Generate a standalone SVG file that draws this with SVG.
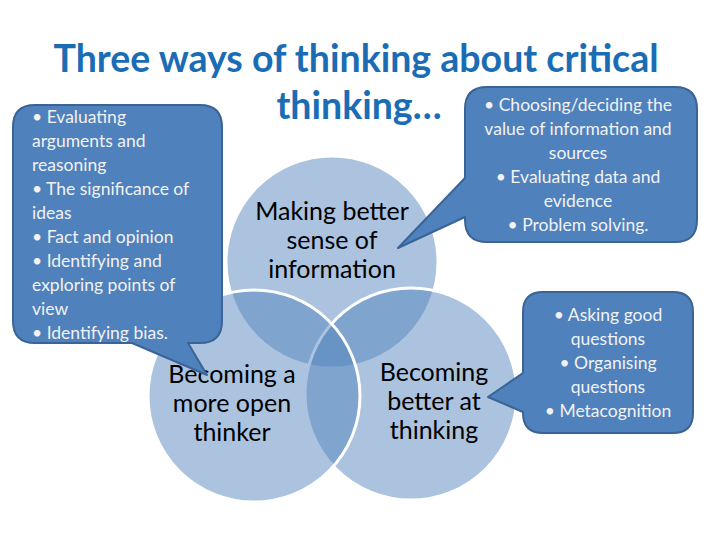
<svg xmlns="http://www.w3.org/2000/svg" width="720" height="540" viewBox="0 0 720 540">
<style>
.title{font-family:Lato,"Open Sans","Liberation Sans",sans-serif;font-weight:bold;font-size:37.5px;fill:#1a6db5;text-anchor:middle}
.venn{fill:#4f81bd;fill-opacity:0.48;stroke:#ffffff;stroke-width:3}
.lbl{font-family:Lato,"Open Sans","Liberation Sans",sans-serif;font-size:25px;fill:#000;text-anchor:middle}
.call{fill:#4f81bd;stroke:#3a6496;stroke-width:2;stroke-linejoin:round}
.ct{font-family:Lato,"Open Sans","Liberation Sans",sans-serif;font-size:17.5px;fill:#f2f2f2}
.cc{text-anchor:middle}
</style>
<rect width="720" height="540" fill="#ffffff"/>
<g id="title">
<text class="title" x="356" y="72">Three ways of thinking about critical</text>
<text class="title" x="359" y="119">thinking…</text>
</g>
<g id="venn">
<g id="circle-top"><circle class="venn" cx="332" cy="262" r="106"/></g>
<g id="circle-right"><circle class="venn" cx="411" cy="394" r="106"/></g>
<g id="circle-left"><circle class="venn" cx="254" cy="396" r="106"/></g>
<g id="labels">
<text class="lbl" x="332" y="220">Making better</text>
<text class="lbl" x="332" y="249">sense of</text>
<text class="lbl" x="332" y="278">information</text>
<text class="lbl" x="232" y="383">Becoming a</text>
<text class="lbl" x="232" y="412">more open</text>
<text class="lbl" x="232" y="441">thinker</text>
<text class="lbl" x="434" y="381">Becoming</text>
<text class="lbl" x="434" y="410">better at</text>
<text class="lbl" x="434" y="439">thinking</text>
</g>
</g>
<g id="callout-left">
<path class="call" d="M35,105 H200 Q222,105 222,127 V321 Q222,343 200,343 H188 L207,375 L132,343 H35 Q13,343 13,321 V127 Q13,105 35,105 Z"/>
<text class="ct" x="32" y="123">• Evaluating</text>
<text class="ct" x="32" y="147">arguments and</text>
<text class="ct" x="32" y="171">reasoning</text>
<text class="ct" x="32" y="195">• The significance of</text>
<text class="ct" x="32" y="219">ideas</text>
<text class="ct" x="32" y="243">• Fact and opinion</text>
<text class="ct" x="32" y="267">• Identifying and</text>
<text class="ct" x="32" y="291">exploring points of</text>
<text class="ct" x="32" y="315">view</text>
<text class="ct" x="32" y="339">• Identifying bias.</text>
</g>
<g id="callout-top-right">
<path class="call" d="M487,87 H675 Q697,87 697,109 V220 Q697,242 675,242 H487 Q465,242 465,220 V217 L398,248 L465,178 V109 Q465,87 487,87 Z"/>
<g class="ct cc">
<text x="578" y="111">•  Choosing/deciding the</text>
<text x="578" y="135">value of information and</text>
<text x="578" y="159">sources</text>
<text x="578" y="183">• Evaluating data and</text>
<text x="578" y="207">evidence</text>
<text x="578" y="231">• Problem solving.</text>
</g>
</g>
<g id="callout-bottom-right">
<path class="call" d="M543,292 H673 Q693,292 693,312 V413 Q693,433 673,433 H543 Q523,433 523,413 V412 L488,397 L523,373 V312 Q523,292 543,292 Z"/>
<g class="ct cc">
<text x="608" y="321">•  Asking good</text>
<text x="608" y="345">questions</text>
<text x="608" y="369">• Organising</text>
<text x="608" y="393">questions</text>
<text x="608" y="417">•  Metacognition</text>
</g>
</g>
</svg>
